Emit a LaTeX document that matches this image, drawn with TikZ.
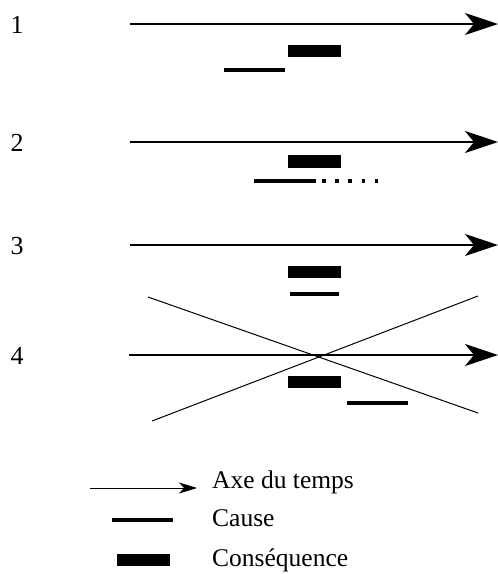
\documentclass[tikz,border=0pt]{standalone}
\usepackage{fontspec}
\setmainfont{Liberation Serif}
\usetikzlibrary{arrows.meta}
\begin{document}
\begin{tikzpicture}[x=1pt,y=-1pt,
  axis/.style={line width=2pt,-{Stealth[length=33pt,width=22pt,inset=9pt]}},
  cause/.style={line width=4pt},
  csq/.style={fill=black,draw=none},
  cross/.style={line width=1pt},
  num/.style={anchor=base west,inner sep=0pt,font=\fontsize{26}{26}\selectfont},
  leg/.style={anchor=base west,inner sep=0pt,font=\fontsize{25.5}{25.5}\selectfont}]
\useasboundingbox (0,0) rectangle (498,574);
% row 1
\node[num] (n1) at (10.5,33) {1};
\coordinate (a1s) at (130,24); \coordinate (a1e) at (498,24);
\draw[axis] (a1s) -- (a1e);
\fill[csq] (288,45) rectangle (341,57);
\coordinate (c1s) at (224,70); \coordinate (c1e) at (285,70);
\draw[cause] (c1s) -- (c1e);
% row 2
\node[num] (n2) at (10.5,151) {2};
\coordinate (a2s) at (130,142); \coordinate (a2e) at (498,142);
\draw[axis] (a2s) -- (a2e);
\fill[csq] (288,155) rectangle (341,168);
\coordinate (c2s) at (254,181); \coordinate (c2e) at (316,181);
\draw[cause] (c2s) -- (c2e);
\coordinate (d2s) at (322,181); \coordinate (d2e) at (378,181);
\draw[cause,dash pattern=on 3.5pt off 9.7pt] (d2s) -- (d2e);
% row 3
\node[num] (n3) at (10.5,254) {3};
\coordinate (a3s) at (130,245); \coordinate (a3e) at (498,245);
\draw[axis] (a3s) -- (a3e);
\fill[csq] (288,265.5) rectangle (341,277.5);
\coordinate (c3s) at (290,293.5); \coordinate (c3e) at (339,293.5);
\draw[cause] (c3s) -- (c3e);
% row 4
\node[num] (n4) at (10.5,364) {4};
\coordinate (a4s) at (129,355); \coordinate (a4e) at (498,355);
\draw[axis] (a4s) -- (a4e);
\fill[csq] (288,375.5) rectangle (341,388);
\coordinate (c4s) at (347,403); \coordinate (c4e) at (408,403);
\draw[cause] (c4s) -- (c4e);
% cross
\coordinate (x1s) at (148,297); \coordinate (x1e) at (478,413);
\coordinate (x2s) at (152,421); \coordinate (x2e) at (478,296);
\draw[cross] (x1s) -- (x1e);
\draw[cross] (x2s) -- (x2e);
% legend
\coordinate (la) at (90,488); \coordinate (lb) at (197,488);
\draw[line width=1pt,-{Stealth[length=18pt,width=11pt,inset=5pt]}] (la) -- (lb);
\node[leg] (t1) at (212,488) {Axe du temps};
\coordinate (lc) at (112,520); \coordinate (ld) at (173,520);
\draw[cause] (lc) -- (ld);
\node[leg] (t2) at (212,526) {Cause};
\fill[csq] (117,554) rectangle (170,566);
\node[leg] (t3) at (212,566) {Conséquence};
\end{tikzpicture}
\end{document}
